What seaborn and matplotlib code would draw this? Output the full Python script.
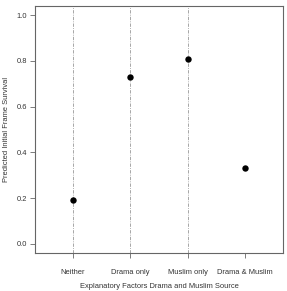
import matplotlib
matplotlib.use("Agg")
import matplotlib.pyplot as plt
import pandas as pd
import seaborn as sns

categories = ["Neither", "Drama only", "Muslim only", "Drama & Muslim"]
survival = [0.19, 0.73, 0.81, 0.33]
guide_lines = ["Neither", "Drama only", "Muslim only"]
y_ticks = [0.0, 0.2, 0.4, 0.6, 0.8, 1.0]


def build_data():
    return pd.DataFrame({"Factor": categories, "Survival": survival})


def plot():
    sns.set_style("ticks")
    plt.rcParams["font.family"] = ["Liberation Sans", "DejaVu Sans"]
    df = build_data()

    fig = plt.figure(figsize=(2.87, 2.91), dpi=100)
    ax = fig.add_axes([0.122, 0.131, 0.864, 0.848])

    for name in guide_lines:
        ax.axvline(categories.index(name), color="#999999", lw=0.6,
                   ls=(0, (4, 1.5, 1, 1.5)), zorder=1)

    sns.stripplot(data=df, x="Factor", y="Survival", order=categories,
                  jitter=False, color="black", size=4.6, ax=ax, zorder=3)

    ax.set_xlim(-0.66, 3.66)
    ax.set_ylim(-0.04, 1.04)
    ax.set_yticks(y_ticks)
    ax.set_yticklabels([f"{v:.1f}" for v in y_ticks])
    ax.set_xlabel("Explanatory Factors Drama and Muslim Source",
                  fontsize=5.4, color="#333333", labelpad=5)
    ax.set_ylabel("Predicted Initial Frame Survival",
                  fontsize=5.4, color="#333333", labelpad=5)
    ax.tick_params(axis="both", labelsize=5.4, labelcolor="#333333",
                   color="#666666", length=3.5, width=0.6, pad=2)
    ax.tick_params(axis="x", pad=8)
    for side in ["left", "right", "top", "bottom"]:
        ax.spines[side].set_visible(True)
        ax.spines[side].set_color("#666666")
        ax.spines[side].set_linewidth(0.8)

    fig.savefig("out.png", dpi=100)


plot()
